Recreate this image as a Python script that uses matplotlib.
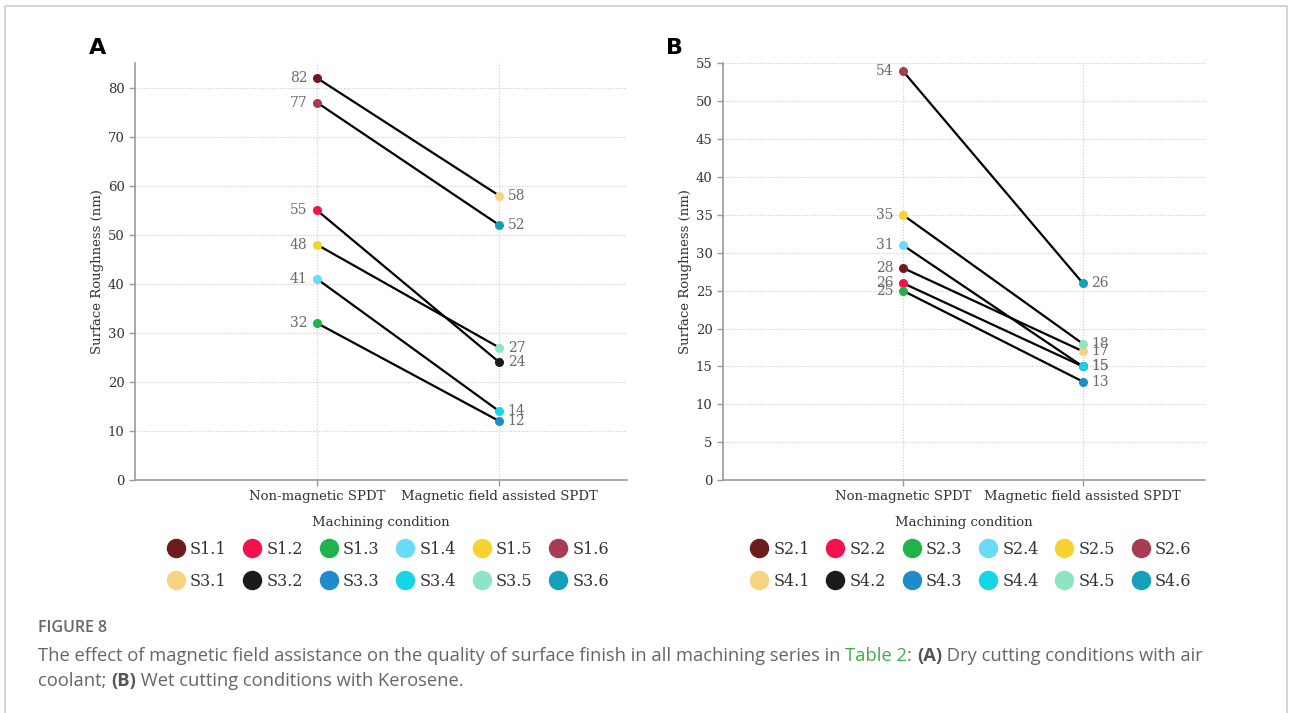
import matplotlib
matplotlib.use('Agg')
import matplotlib.pyplot as plt
from matplotlib.lines import Line2D

# ---------------- data ----------------
conditions = ["Non-magnetic SPDT", "Magnetic field assisted SPDT"]

a_before_names = ["S1.1", "S1.2", "S1.3", "S1.4", "S1.5", "S1.6"]
a_after_names = ["S3.1", "S3.2", "S3.3", "S3.4", "S3.5", "S3.6"]
a_before = [82, 55, 32, 41, 48, 77]
a_after = [58, 24, 12, 14, 27, 52]

b_before_names = ["S2.1", "S2.2", "S2.3", "S2.4", "S2.5", "S2.6"]
b_after_names = ["S4.1", "S4.2", "S4.3", "S4.4", "S4.5", "S4.6"]
b_before = [28, 26, 25, 31, 35, 54]
b_after = [17, 15, 13, 15, 18, 26]

a_yticks = [0, 10, 20, 30, 40, 50, 60, 70, 80]
b_yticks = [0, 5, 10, 15, 20, 25, 30, 35, 40, 45, 50, 55]

before_colors = ["#6E1B1E", "#F2134B", "#22B24C", "#6ADBF7", "#F8D22E", "#A83D52"]
after_colors = ["#F6D281", "#1B1B1B", "#1E8BCB", "#15D6E3", "#8FE5C1", "#14A1B7"]

SERIF = "DejaVu Serif"
W, H = 1290, 713
fig = plt.figure(figsize=(W / 100, H / 100), dpi=100)


def fx(px):
    return px / W


def fy(py):
    return 1 - py / H


def panel(rect, xlim, ylim, yticks, before, after, bnames, anames, letter, letter_xy):
    ax = fig.add_axes(rect)
    ax.set_xlim(*xlim)
    ax.set_ylim(*ylim)
    for s in ["top", "right"]:
        ax.spines[s].set_visible(False)
    for s in ["left", "bottom"]:
        ax.spines[s].set_color("#9a9a9a")
        ax.spines[s].set_linewidth(1.2)
    ax.set_yticks(yticks)
    ax.set_xticks([0, 1])
    ax.set_xticklabels(conditions)
    ax.tick_params(axis="both", colors="#9a9a9a", length=4, width=1, labelcolor="#333333",
                   labelsize=9.5)
    for lab in ax.get_xticklabels() + ax.get_yticklabels():
        lab.set_family(SERIF)
    ax.grid(True, linestyle=(0, (1, 1.5)), color="#cccccc", linewidth=0.8)
    ax.set_axisbelow(True)
    ax.set_ylabel("Surface Roughness (nm)", family=SERIF, fontsize=9.5, color="#333333", labelpad=3)
    ax.set_xlabel("Machining condition", family=SERIF, fontsize=9.5, color="#333333", labelpad=9)

    for i in range(len(before)):
        ax.plot([0, 1], [before[i], after[i]], color="black", lw=1.6, zorder=3,
                solid_capstyle="round")
    for i in range(len(before)):
        ax.plot([0], [before[i]], "o", color=before_colors[i], ms=5.5, zorder=4)
        ax.annotate(str(before[i]), (0, before[i]), xytext=(-7, 0), textcoords="offset points",
                    ha="right", va="center", family=SERIF, fontsize=10, color="#6b6b6b")
    for i in range(len(after)):
        ax.plot([1], [after[i]], "o", color=after_colors[i], ms=5.5, zorder=4)
        ax.annotate(str(after[i]), (1, after[i]), xytext=(6, 0), textcoords="offset points",
                    ha="left", va="center", family=SERIF, fontsize=10, color="#6b6b6b")

    handles, labels = [], []
    for i in range(len(before)):
        handles.append(Line2D([], [], ls="none", marker="o", ms=13, color=before_colors[i]))
        labels.append(bnames[i])
        handles.append(Line2D([], [], ls="none", marker="o", ms=13, color=after_colors[i]))
        labels.append(anames[i])
    leg = ax.legend(handles, labels, ncol=6, loc="upper center", bbox_to_anchor=(0.515, -0.13),
                    frameon=False, prop={"family": SERIF, "size": 11.5}, handlelength=1.0,
                    handletextpad=0.4, columnspacing=1.1, labelspacing=0.95, borderaxespad=0)
    for t in leg.get_texts():
        t.set_color("#333333")
    fig.text(fx(letter_xy[0]), fy(letter_xy[1]), letter, fontsize=16, fontweight="bold",
             family="DejaVu Sans", ha="center", va="center", color="black")
    return ax


top_px, bot_px = 63, 480
rectA = [fx(135), fy(bot_px), fx(627) - fx(135), (bot_px - top_px) / H]
rectB = [fx(723), fy(bot_px), fx(1205) - fx(723), (bot_px - top_px) / H]

panel(rectA, (-1, 1.7), (0, 85.1), a_yticks, a_before, a_after, a_before_names, a_after_names,
      "A", (98, 48))
panel(rectB, (-1, 1.68), (0, 55.05), b_yticks, b_before, b_after, b_before_names, b_after_names,
      "B", (675, 48))

# border
fig.add_artist(Line2D([fx(4.5), fx(4.5), fx(1286.5), fx(1286.5)],
                      [0, fy(5.5), fy(5.5), 0], color="#cccccc", lw=1.2))

# caption
CAP = "Open Sans"
fig.text(fx(38), fy(628), "FIGURE 8", family=CAP, fontsize=11.5, fontweight="semibold",
         color="#666666", ha="left", va="center")

fig.canvas.draw()
renderer = fig.canvas.get_renderer()


def write_run(pieces, x_px, y_px):
    x = x_px
    for txt, color, weight in pieces:
        t = fig.text(fx(x), fy(y_px), txt, family=CAP, fontsize=13.2, color=color,
                     fontweight=weight, ha="left", va="center")
        bb = t.get_window_extent(renderer=renderer)
        x += bb.width


grey = "#666666"
write_run([
    ("The effect of magnetic field assistance on the quality of surface finish in all machining series in ", grey, "normal"),
    ("Table 2", "#3DAE49", "normal"),
    (": ", grey, "normal"),
    ("(A)", "#555555", "bold"),
    (" Dry cutting conditions with air", grey, "normal"),
], 38, 656)
write_run([
    ("coolant; ", grey, "normal"),
    ("(B)", "#555555", "bold"),
    (" Wet cutting conditions with Kerosene.", grey, "normal"),
], 38, 681)

fig.savefig("out.png", dpi=100)
